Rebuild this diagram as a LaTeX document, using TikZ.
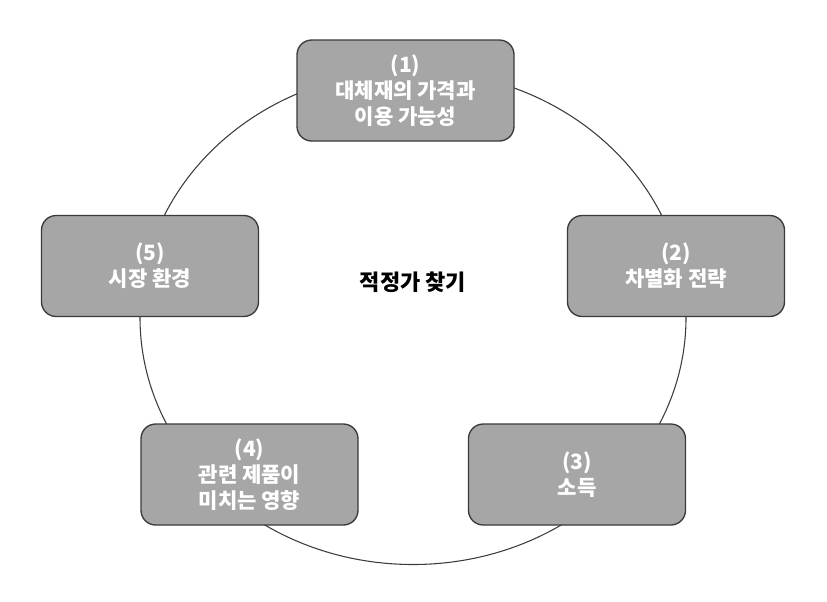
\documentclass[tikz,border=0pt]{standalone}
\usepackage{fontspec}
\setmainfont{Noto Sans CJK KR}
\definecolor{boxfill}{HTML}{A6A6A6}
\definecolor{boxline}{HTML}{3A3A3A}
\definecolor{ringline}{HTML}{3C3C3C}
\tikzset{
  factor/.style={draw=boxline, line width=1pt, fill=boxfill, rounded corners=11pt,
    minimum width=162.75pt, minimum height=75.75pt, inner sep=0pt,
    align=center, text=white, font=\bfseries\fontsize{15.8}{19.5}\selectfont},
  title/.style={align=center, text=black, font=\bfseries\fontsize{16.5}{19.5}\selectfont},
  ring/.style={draw=ringline, line width=0.8pt}
}
\begin{document}
\begin{tikzpicture}[x=0.75pt, y=-0.75pt]
\useasboundingbox (0,0) rectangle (827,601);
\coordinate (ctr) at (413,317.5);
\draw[ring] (ctr) ellipse [x radius=204.75pt, y radius=185.25pt];
\node[factor] (b1) at (405.5,90.5) {(1)\\대체재의 가격과\\이용 가능성};
\node[factor] (b2) at (676,266) {(2)\\차별화 전략};
\node[factor] (b3) at (577,474.5) {(3)\\소득};
\node[factor] (b4) at (249.5,474.5) {(4)\\관련 제품이\\미치는 영향};
\node[factor] (b5) at (150,266) {(5)\\시장 환경};
\node[title] (c) at (413,282) {적정가 찾기};
\end{tikzpicture}
\end{document}
